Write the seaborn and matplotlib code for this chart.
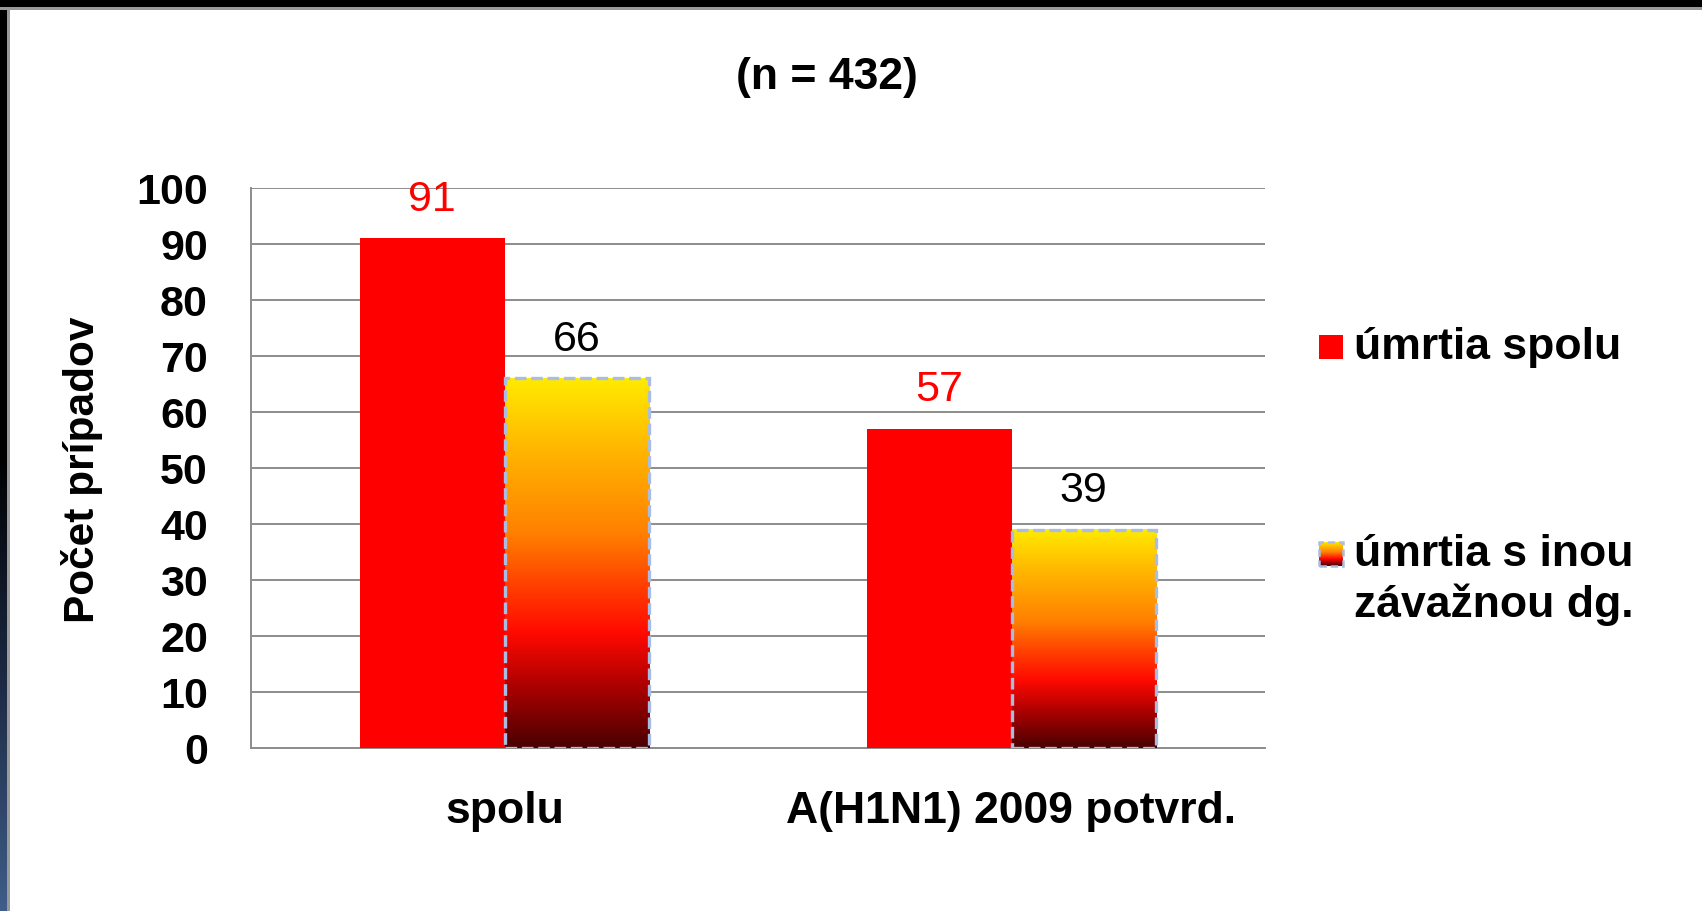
import numpy as np
import pandas as pd
import matplotlib
matplotlib.use("Agg")
import matplotlib.pyplot as plt
import seaborn as sns
from matplotlib.colors import LinearSegmentedColormap
from matplotlib.patches import Rectangle

# data
categories = ["spolu", "A(H1N1) 2009 potvrd."]
series_names = ["úmrtia spolu", "úmrtia s inou závažnou dg."]
deaths_total = [91, 57]
deaths_other_dg = [66, 39]
title = "(n = 432)"
ylabel = "Počet prípadov"

df = pd.DataFrame({
    "kategoria": categories * 2,
    "seria": [series_names[0]] * 2 + [series_names[1]] * 2,
    "pocet": deaths_total + deaths_other_dg,
})

sns.set_style("white")
plt.rcParams["font.family"] = ["Liberation Sans", "DejaVu Sans"]
plt.rcParams["text.color"] = "black"
plt.rcParams["xtick.labelcolor"] = "black"
plt.rcParams["ytick.labelcolor"] = "black"

W, H = 1702, 911
fig = plt.figure(figsize=(W / 100, H / 100), dpi=100)
fig.patch.set_facecolor("white")

# gradient used by the second series (dark red -> red -> orange -> yellow)
grad_cmap = LinearSegmentedColormap.from_list("fire", [
    (0.0, "#4a0000"), (0.16, "#a80000"), (0.31, "#ff0a00"), (0.45, "#ff4400"),
    (0.58, "#ff8000"), (0.8, "#ffb400"), (1.0, "#ffea00")])
grad = np.linspace(0, 1, 256).reshape(-1, 1)
edge_blue = "#a9bde3"

# frame decoration (black top/left band like the slide screenshot)
bg = fig.add_axes([0, 0, 1, 1], zorder=-5)
bg.set_xlim(0, W)
bg.set_ylim(H, 0)
bg.axis("off")
bg.add_patch(Rectangle((0, 0), W, 7, color="black", lw=0))
bg.add_patch(Rectangle((0, 7), W, 3, color="#9a9a9a", lw=0))
left_cmap = LinearSegmentedColormap.from_list("side", [(0, "black"), (0.5, "black"), (0.75, "#1c2a44"), (1, "#3f5d88")])
bg.imshow(np.linspace(0, 1, 256).reshape(-1, 1), cmap=left_cmap, aspect="auto", extent=[0, 7, H, 0], origin="upper")
bg.add_patch(Rectangle((7, 7), 3, H, color="#9a9a9a", lw=0))

ax = fig.add_axes([251 / W, 1 - 748 / H, 1014 / W, 560 / H])
sns.barplot(data=df, x="kategoria", y="pocet", hue="seria", order=categories,
            hue_order=series_names, palette=["#ff0000", "#ff8000"], width=0.57,
            saturation=1, legend=False, ax=ax, err_kws={"linewidth": 0})

for i, p in enumerate(ax.patches):
    x, w, h = p.get_x(), p.get_width(), p.get_height()
    if i >= len(categories):
        p.set_facecolor("none")
        p.set_edgecolor(edge_blue)
        p.set_linewidth(2.4)
        p.set_linestyle((0, (3.5, 1.4)))
        p.set_zorder(4)
        ax.imshow(grad, cmap=grad_cmap, origin="lower", aspect="auto",
                  extent=[x, x + w, 0, h], zorder=3)
        col = "black"
    else:
        p.set_edgecolor("none")
        p.set_zorder(3)
        col = "#ff0000"
    ax.annotate(f"{h:.0f}", (x + w / 2, h), xytext=(0, 28), textcoords="offset points",
                ha="center", va="center", fontsize=31, color=col)

ax.set_xlim(-0.5, 1.5)
ax.set_ylim(0, 100)
ax.set_yticks(range(0, 101, 10))
ax.set_xlabel("")
ax.set_ylabel("")
ax.grid(axis="y", color="#8c8c8c", lw=1.4)
ax.set_axisbelow(True)
for s in ["top", "right"]:
    ax.spines[s].set_visible(False)
for s in ["left", "bottom"]:
    ax.spines[s].set_color("#8c8c8c")
    ax.spines[s].set_linewidth(1.4)

ax.set_xticks([-0.5, 0.5, 1.5], minor=True)
ax.tick_params(axis="x", which="minor", length=11, width=1.4, color="#8c8c8c", direction="out")
ax.tick_params(axis="x", which="major", length=0, pad=31, labelsize=32)
ax.tick_params(axis="y", length=11, width=1.4, color="#8c8c8c", direction="out", pad=20, labelsize=31)
for lab in ax.get_xticklabels() + ax.get_yticklabels():
    lab.set_fontweight("bold")

fig.text(827 / W, 1 - 78 / H, title, ha="center", va="center", fontsize=32, fontweight="bold")
fig.text(82 / W, 1 - 470 / H, ylabel, rotation=90, ha="center", va="center", fontsize=30.5, fontweight="bold")

# legend on the right
fig.add_artist(Rectangle((1319 / W, 1 - 359 / H), 24 / W, 24 / H, transform=fig.transFigure,
                         facecolor="#ff0000", edgecolor="none"))
fig.text(1354 / W, 1 - 347 / H, series_names[0], ha="left", va="center", fontsize=32, fontweight="bold")
sw = fig.add_axes([1319 / W, 1 - 566 / H, 24 / W, 24 / H])
sw.imshow(grad, cmap=grad_cmap, origin="lower", aspect="auto", extent=[0, 1, 0, 1])
sw.add_patch(Rectangle((0, 0), 1, 1, fill=False, edgecolor=edge_blue, lw=1.8,
                       linestyle=(0, (3, 1.5)), transform=sw.transAxes, clip_on=False))
sw.axis("off")
fig.text(1354 / W, 1 - 580 / H, "úmrtia s inou\nzávažnou dg.", ha="left", va="center",
         fontsize=32, fontweight="bold", linespacing=1.23)

fig.savefig("out.png", dpi=100)
